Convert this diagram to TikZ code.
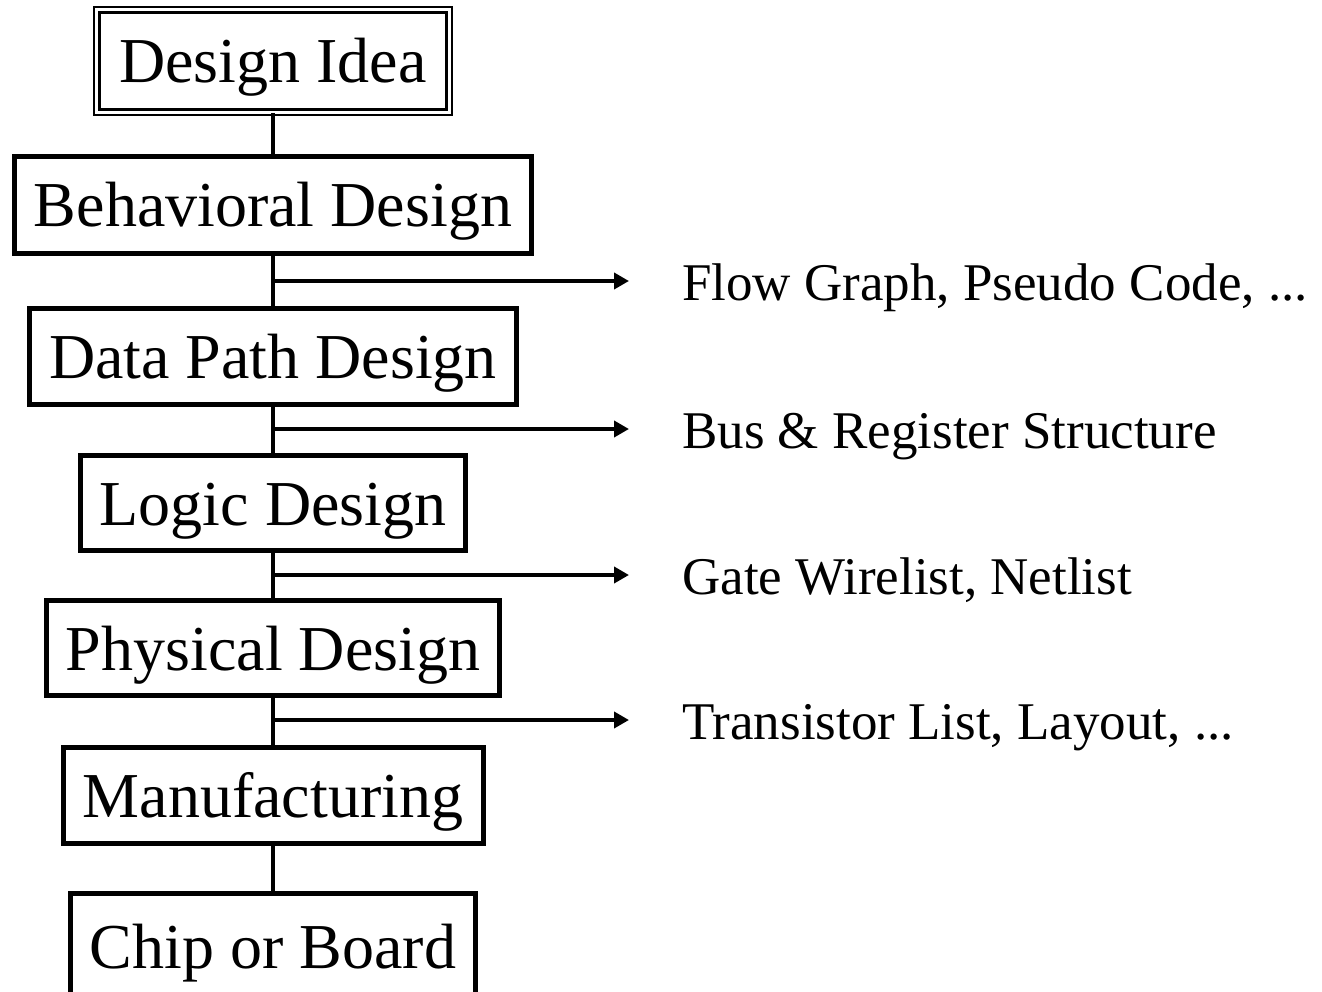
\documentclass[tikz,border=0pt]{standalone}
\usepackage{fontspec}
\setmainfont{Liberation Serif}
\usetikzlibrary{arrows.meta}
\begin{document}
\begin{tikzpicture}[x=1pt,y=-1pt,
  stagebox/.style={draw, line width=5pt, inner sep=0pt,
    font=\fontsize{64pt}{70pt}\selectfont, text height=48pt, text depth=4pt},
  ideabox/.style={stagebox, line width=2.5pt, double, double distance=2.8pt},
  link/.style={line width=4.5pt},
  outlink/.style={line width=4.5pt, -{Triangle[length=15pt,width=16pt]}},
  result/.style={anchor=base west, inner sep=0pt,
    font=\fontsize{53pt}{60pt}\selectfont}]
\useasboundingbox (0,0) rectangle (1322,992);
\clip (0,0) rectangle (1322,992);

% design stages
\node[ideabox, minimum width=352.5pt, minimum height=102.5pt] (idea) at (273,61) {Design Idea};
\node[stagebox, minimum width=517pt, minimum height=97pt] (behav) at (273,205) {Behavioral Design};
\node[stagebox, minimum width=487pt, minimum height=96pt] (dpath) at (273,356.5) {Data Path Design};
\node[stagebox, minimum width=385pt, minimum height=95pt] (logic) at (273,503) {Logic Design};
\node[stagebox, minimum width=453pt, minimum height=95pt] (phys) at (273,648) {Physical Design};
\node[stagebox, minimum width=420pt, minimum height=96pt] (manuf) at (273,795.5) {Manufacturing};
\node[stagebox, minimum width=405pt, minimum height=106pt] (chip) at (273,946) {Chip or Board};

% flow between stages
\draw[link] (idea.south) -- (behav.north);
\draw[link] (behav.south) -- (dpath.north);
\draw[link] (dpath.south) -- (logic.north);
\draw[link] (logic.south) -- (phys.north);
\draw[link] (phys.south) -- (manuf.north);
\draw[link] (manuf.south) -- (chip.north);

% outputs of each stage
\coordinate (b1) at (273,281);
\coordinate (b2) at (273,429);
\coordinate (b3) at (273,575);
\coordinate (b4) at (273,720);
\coordinate (e1) at (629,281);
\coordinate (e2) at (629,429);
\coordinate (e3) at (629,575);
\coordinate (e4) at (629,720);
\draw[outlink] (b1) -- (e1);
\draw[outlink] (b2) -- (e2);
\draw[outlink] (b3) -- (e3);
\draw[outlink] (b4) -- (e4);

\node[result] (r1) at (682,300) {Flow Graph, Pseudo Code, ...};
\node[result] (r2) at (682,448) {Bus \& Register Structure};
\node[result] (r3) at (682,594) {Gate Wirelist, Netlist};
\node[result] (r4) at (682,739) {Transistor List, Layout, ...};
\end{tikzpicture}
\end{document}
